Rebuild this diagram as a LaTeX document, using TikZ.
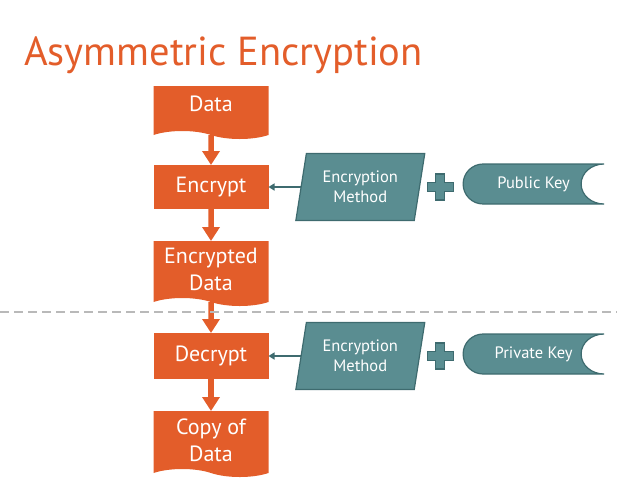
\documentclass[tikz,border=0pt]{standalone}
\usepackage{fontspec}
\setmainfont{PT Sans}
\usepackage{xcolor}
\usetikzlibrary{
	positioning,						% Relative positioning
	shapes.geometric,					% Parallelogram (trapezium)
	shapes.symbols,						% Document boxes (tape)
	arrows.meta							% Arrow tips
}
\definecolor{slideorange}{HTML}{E35D2A}
\definecolor{keyteal}{HTML}{5A8D91}
\definecolor{keyedge}{HTML}{3E6B6F}
\definecolor{sepgray}{HTML}{B9B9B9}
\pgfdeclarelayer{back}
\pgfsetlayers{back,main}

% Stored data shape round a named node
\newcommand{\keyshape}[1]{%
	\begin{pgfonlayer}{back}
		\filldraw[keybody] ([xshift=20pt]#1.north west) -- (#1.north east)
			arc[start angle=90, end angle=270, x radius=23pt, y radius=20pt]
			-- ([xshift=20pt]#1.south west)
			arc[start angle=270, end angle=90, radius=20pt] -- cycle;
	\end{pgfonlayer}}
% Plus sign round a named coordinate
\newcommand{\plussign}[1]{%
	\filldraw[plusmark] (#1) ++(-4.5pt,13pt) -- ++(9pt,0pt) -- ++(0pt,-8.5pt)
		-- ++(8.5pt,0pt) -- ++(0pt,-9pt) -- ++(-8.5pt,0pt) -- ++(0pt,-8.5pt)
		-- ++(-9pt,0pt) -- ++(0pt,8.5pt) -- ++(-8.5pt,0pt) -- ++(0pt,9pt)
		-- ++(8.5pt,0pt) -- cycle;}

\begin{document}
\begin{tikzpicture}
		[
		,x=1pt, y=-1pt
		,flowbox/.style = {
			,fill=slideorange
			,text=white
			,minimum width=115pt
			,minimum height=45pt
			,inner sep=0pt
			,outer sep=0pt
			,align=center
			,font=\fontsize{22}{27}\selectfont}
		,docbox/.style = {
			,flowbox
			,tape
			,tape bend top=none
			,tape bend bottom=out and in
			,tape bend height=8pt}
		,methodbox/.style = {
			,trapezium
			,trapezium left angle=77
			,trapezium right angle=103
			,trapezium stretches=true
			,fill=keyteal
			,draw=keyedge
			,line width=1.2pt
			,text=white
			,minimum width=130pt
			,minimum height=67pt
			,inner sep=0pt
			,align=center
			,font=\fontsize{16.5}{20}\selectfont}
		,keytext/.style = {
			,text=white
			,minimum width=141pt
			,minimum height=40pt
			,inner sep=0pt
			,outer sep=0pt
			,font=\fontsize{16.5}{18}\selectfont}
		,keybody/.style = {
			,fill=keyteal
			,draw=keyedge
			,line width=1.2pt}
		,plusmark/.style = {
			,fill=keyteal
			,draw=keyedge
			,line width=1.2pt}
		,flow/.style = {
			,draw=slideorange
			,line width=5.5pt
			,-{Triangle[length=14pt, width=17pt]}}
		,link/.style = {
			,draw=keyedge
			,line width=1.5pt
			,-{Triangle[length=6pt, width=7pt]}}
		,separator/.style = {
			,draw=sepgray
			,line width=1.5pt
			,dash pattern=on 9pt off 5pt}
		]
		\useasboundingbox (0,0) rectangle (617,477);
		
		% Title
		\node[anchor=base west, inner sep=0pt, text=slideorange, font=\fontsize{40.5}{40}\selectfont] (title) at (24,65) {Asymmetric Encryption};
		
		% Encryption column
		\node[docbox, minimum height=53pt, text depth=9pt] (data) at (211,108.5) {Data};
		\node[flowbox, minimum height=44pt] (encrypt)  at (211,187)   {Encrypt};
		\node[docbox, minimum height=65pt] (encdata)  at (211,269.5) {Encrypted\\Data};
		
		% Decryption column
		\node[flowbox, minimum height=46pt] (decrypt)  at (211,356)   {Decrypt};
		\node[docbox, minimum height=66pt] (copydata) at (211,440)   {Copy of\\Data};
		
		% Methods and keys
		\node[methodbox, right=32pt of encrypt] (encmeth) {Encryption\\Method};
		\coordinate[right=20pt of encmeth] (plusA);
		\node[keytext, right=23pt of plusA, yshift=3pt] (pubkey) {Public Key};
		
		\node[methodbox, right=32pt of decrypt] (decmeth) {Encryption\\Method};
		\coordinate[right=20pt of decmeth] (plusB);
		\node[keytext, right=23pt of plusB, yshift=2pt] (privkey) {Private Key};
		
		\plussign{plusA}
		\plussign{plusB}
		\keyshape{pubkey}
		\keyshape{privkey}
		
		% Arrows
		\draw[flow] (data) -- (encrypt);
		\draw[flow] (encrypt) -- (encdata);
		\draw[flow] (encdata) -- (decrypt);
		\draw[flow] (decrypt) -- (copydata);
		\draw[link] (encmeth) -- (encrypt);
		\draw[link] (decmeth) -- (decrypt);
		
		% Separator
		\coordinate (sepL) at (0,312);
		\coordinate (sepR) at (617,312);
		\draw[separator] (sepL) -- (sepR);
	\end{tikzpicture}
\end{document}
